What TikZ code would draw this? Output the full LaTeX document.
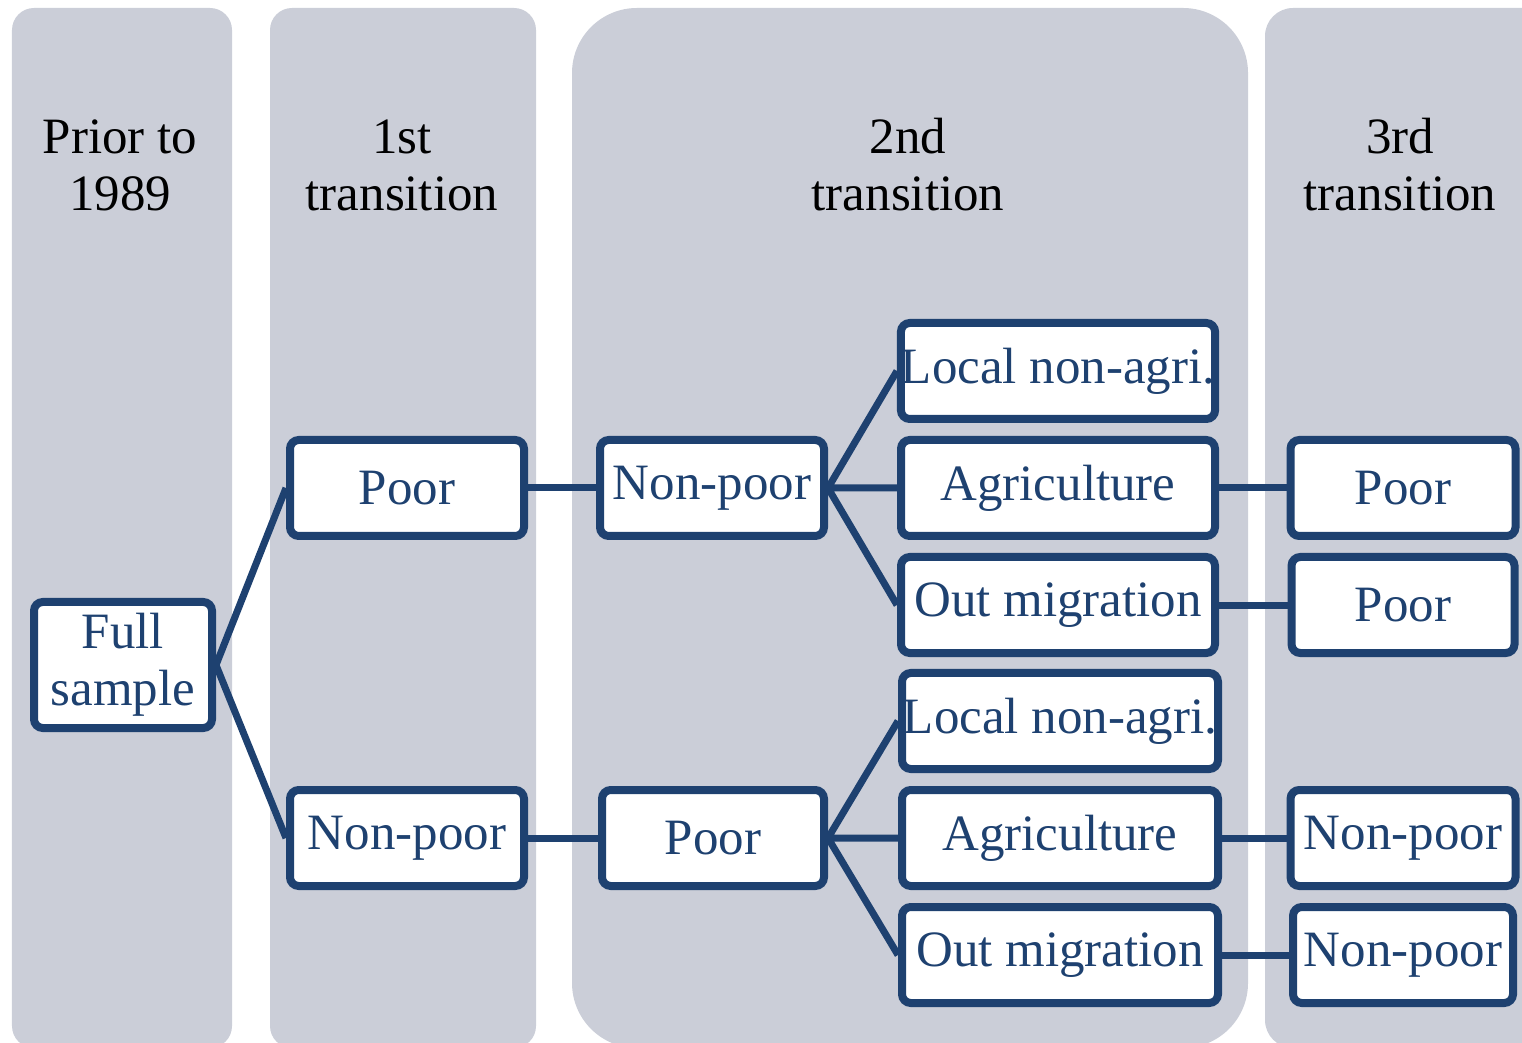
\documentclass[tikz,border=0pt]{standalone}
\usepackage{fontspec}
\setmainfont{Liberation Serif}
\usetikzlibrary{positioning}
\definecolor{lane}{RGB}{203,206,216}
\definecolor{navy}{RGB}{30,65,112}
\tikzset{
  txt/.style={font=\fontsize{14.5}{16.2}\selectfont},
  lanebg/.style={fill=lane,rounded corners=.22cm},
  hd/.style={txt,align=center,text=black},
  % every state box: white, thick navy outline, navy text
  bx/.style={txt,rectangle,rounded corners=2.5pt,draw=navy,fill=white,text=navy,
    line width=.08cm,minimum height=.96cm,inner sep=0pt},
  lnk/.style={draw=navy,line width=.07cm},
}

\begin{document}
\begin{tikzpicture}
\clip (0,0) rectangle (15.22,10.42);
% lanes for the four periods
\fill[lanebg] (0.12,-0.06) rectangle (2.32,10.34);
\fill[lanebg] (2.70,-0.06) rectangle (5.36,10.34);
\fill[lanebg,rounded corners=.65cm] (5.72,-0.06) rectangle (12.48,10.34);
\fill[lanebg,rounded corners=.28cm] (12.65,-0.06) rectangle (15.60,10.34);

\node[hd] (h0) at (1.20,8.77) {Prior to\\1989};
\node[hd] (h1) at (4.02,8.77) {1st\\transition};
\node[hd] (h2) at (9.08,8.77) {2nd\\transition};
\node[hd] (h3) at (14.00,8.77) {3rd\\transition};

\node[bx,align=center,minimum width=1.78cm,minimum height=1.26cm] (fs) at (1.23,3.77) {Full\\sample};

\node[bx,minimum width=2.34cm] (p1) at (4.07,5.54) {Poor};
\node[bx,minimum width=2.34cm] (n1) at (4.07,2.04) {Non-poor};

\node[bx,minimum width=2.24cm] (n2) at (7.12,5.54) {Non-poor};
\node[bx,minimum width=2.22cm] (p2) at (7.13,2.04) {Poor};

\node[bx,minimum width=3.14cm] (ag) at (10.58,5.54) {Agriculture};
\node[bx,minimum width=3.14cm,above=.13cm of ag] (la) {Local non-agri.};
\node[bx,minimum width=3.14cm,below=.13cm of ag] (om) {Out migration};
\node[bx,minimum width=3.16cm] (ab) at (10.60,2.04) {Agriculture};
\node[bx,minimum width=3.16cm,above=.13cm of ab] (lb) {Local non-agri.};
\node[bx,minimum width=3.16cm,below=.13cm of ab] (ob) {Out migration};

\node[bx,minimum width=2.25cm] (q1) at (14.03,5.54) {Poor};
\node[bx,minimum width=2.23cm,below=.13cm of q1] (q2) {Poor};
\node[bx,minimum width=2.25cm] (r1) at (14.03,2.04) {Non-poor};
\node[bx,minimum width=2.20cm,below=.13cm of r1] (r2) {Non-poor};

\draw[lnk] (fs.east)--(p1.west) (fs.east)--(n1.west);
\draw[lnk] (p1)--(n2) (n1)--(p2);
\draw[lnk] (n2.east)--(la.west) (n2.east)--(ag.west) (n2.east)--(om.west);
\draw[lnk] (p2.east)--(lb.west) (p2.east)--(ab.west) (p2.east)--(ob.west);
\draw[lnk] (ag)--(q1) (om)--(q2) (ab)--(r1) (ob)--(r2);
\end{tikzpicture}
\end{document}
